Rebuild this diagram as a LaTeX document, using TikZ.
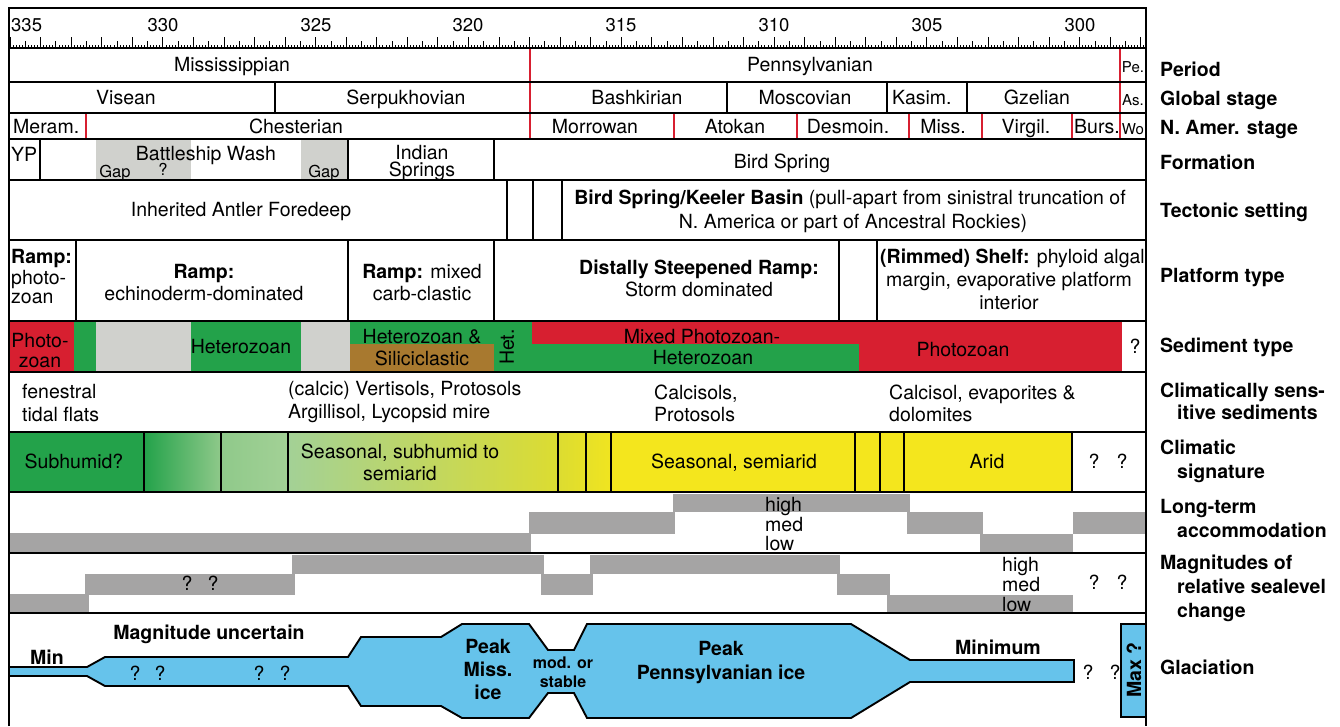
\documentclass[tikz,border=0pt]{standalone}
\usepackage{fontspec}
\setmainfont{TeX Gyre Heros}
\definecolor{cred}{HTML}{D71F30}
\definecolor{cgreen}{HTML}{23A24A}
\definecolor{cgap}{HTML}{D0D1CD}
\definecolor{cbrown}{HTML}{A8792F}
\definecolor{cbar}{HTML}{A5A4A4}
\definecolor{cblue}{HTML}{66C3EB}
\definecolor{cyel}{HTML}{F4E61D}
\definecolor{cyg}{HTML}{DCDC31}
\definecolor{clg}{HTML}{8FC98A}
\definecolor{clg2}{HTML}{A3D196}
\newcommand\Tx[5][txt]{\node[#1] (#2) at (#3,#4+6.5) {#5};}
\begin{document}
\begin{tikzpicture}[x=1pt,y=-1pt,
  txt/.style={font=\fontsize{19.5}{23}\selectfont, inner sep=0pt, anchor=base},
  wtxt/.style={txt, anchor=base west},
  btxt/.style={txt, font=\fontsize{19.5}{23}\selectfont\bfseries},
  wbtxt/.style={btxt, anchor=base west},
  stxt/.style={txt, font=\fontsize{16.5}{19}\selectfont},
  ttxt/.style={txt, font=\fontsize{15}{17}\selectfont},
  ntxt/.style={txt, font=\fontsize{18.5}{22}\selectfont},
  frame/.style={line width=2.4pt},
  rowline/.style={line width=2.1pt},
  vl/.style={line width=1.7pt},
  rl/.style={cred, line width=2.3pt},
  bar/.style={fill=cbar},
  tick/.style={line width=0.7pt}]
\useasboundingbox (0,0) rectangle (1340,726);
% ---------- fills ----------
\fill[cgap] (96,139) rectangle (191,180);
\fill[cgap] (301,139) rectangle (348,180);
% sediment type
\fill[cred] (9,321) rectangle (74,372);
\fill[cgreen] (74,321) rectangle (96,372);
\fill[cgap] (96,321) rectangle (191,372);
\fill[cgreen] (191,321) rectangle (301,372);
\fill[cgap] (301,321) rectangle (350,372);
\fill[cgreen] (350,321) rectangle (494,344);
\fill[cbrown] (350,344) rectangle (494,372);
\fill[cgreen] (494,321) rectangle (532,372);
\fill[cred] (532,321) rectangle (859,344);
\fill[cgreen] (532,344) rectangle (859,372);
\fill[cred] (859,321) rectangle (1122,372);
% climatic signature
\fill[cgreen] (9,432) rectangle (144,492);
\shade[left color=cgreen, right color=clg] (144,432) rectangle (221,492);
\shade[left color=clg, right color=clg2] (221,432) rectangle (288,492);
\shade[left color=clg2, right color=cyg] (288,432) rectangle (558,492);
\shade[left color=cyg, right color=cyel!85!cyg] (558,432) rectangle (611,492);
\fill[cyel] (611,432) rectangle (1072,492);
% long-term accommodation
\fill[bar] (9,533) rectangle (531,552);
\fill[bar] (529,512) rectangle (675,534);
\fill[bar] (673,494) rectangle (910,512);
\fill[bar] (907,512) rectangle (983,534);
\fill[bar] (980,534) rectangle (1073,552);
\fill[bar] (1073,512) rectangle (1146,534);
% magnitudes
\fill[bar] (9,594) rectangle (89,612);
\fill[bar] (85,574) rectangle (295,595);
\fill[bar] (292,555) rectangle (544,574);
\fill[bar] (541,574) rectangle (593,595);
\fill[bar] (590,555) rectangle (840,574);
\fill[bar] (837,574) rectangle (890,595);
\fill[bar] (887,595) rectangle (1073,612);
% glaciation
\fill[cblue] (9,667) -- (87,667) -- (105,657) -- (348,657) -- (361,637) -- (441,637) -- (462,624) -- (529,624) -- (548,650) -- (574,650) -- (587,624) -- (851,624) -- (910,660) -- (1074,660) -- (1074,682) -- (910,682) -- (851,718) -- (587,718) -- (574,693) -- (548,693) -- (529,718) -- (462,718) -- (441,706) -- (361,706) -- (348,686) -- (105,686) -- (87,676) -- (9,676) -- cycle;
\draw[line width=1.9pt, line join=miter] (9,667) -- (87,667) -- (105,657) -- (348,657) -- (361,637) -- (441,637) -- (462,624) -- (529,624) -- (548,650) -- (574,650) -- (587,624) -- (851,624) -- (910,660) -- (1074,660) -- (1074,682) -- (910,682) -- (851,718) -- (587,718) -- (574,693) -- (548,693) -- (529,718) -- (462,718) -- (441,706) -- (361,706) -- (348,686) -- (105,686) -- (87,676) -- (9,676);
\draw[fill=cblue, line width=1.9pt] (1121,624) rectangle (1146,717);
% ---------- axis ticks ----------
\foreach \i in {0,...,371}{
  \pgfmathsetmacro\h{mod(\i,10)==0 ? 11 : (mod(\i,5)==0 ? 7 : 3.5)}
  \draw[tick] (10+\i*3.056,48) -- ++(0,-\h);
}
% ---------- red boundaries ----------
\draw[rl] (530,48) -- (530,139);
\draw[rl] (1120,48) -- (1120,139);
\foreach \x in {86,674,797,909,982,1072} \draw[rl] (\x,113) -- (\x,139);
% ---------- black lines ----------
\foreach \x in {275,727,887,967} \draw[vl] (\x,82) -- (\x,113);
\foreach \x in {40,348,494} \draw[vl] (\x,139) -- (\x,180);
\foreach \x in {507,533,562} \draw[vl] (\x,180) -- (\x,240);
\foreach \x in {76,348,494,839,877} \draw[vl] (\x,240) -- (\x,321);
\foreach \x in {144,221,288,558,586,611,855,880,904,1072} \draw[vl] (\x,432) -- (\x,492);
\foreach \y in {48,82,113,139,180,240,321,372,432,492,553,613} \draw[rowline] (9,\y) -- (1146,\y);
\draw[frame] (9,726) -- (9,8) -- (1146,8) -- (1146,726);
% ---------- axis labels ----------
\Tx[ntxt,anchor=base west]{a335}{11}{25}{335}
\Tx[ntxt]{a330}{163}{25}{330}
\Tx[ntxt]{a325}{316}{25}{325}
\Tx[ntxt]{a320}{468}{25}{320}
\Tx[ntxt]{a315}{621}{25}{315}
\Tx[ntxt]{a310}{774}{25}{310}
\Tx[ntxt]{a305}{927}{25}{305}
\Tx[ntxt]{a300}{1080}{25}{300}
% period
\Tx{miss}{232}{65}{Mississippian}
\Tx{penn}{810}{65}{Pennsylvanian}
\Tx[ttxt]{pe}{1133}{66}{Pe.}
% global stage
\Tx{vis}{126}{98}{Visean}
\Tx{serp}{406}{98}{Serpukhovian}
\Tx{bash}{637}{98}{Bashkirian}
\Tx{mosc}{805}{98}{Moscovian}
\Tx[wtxt]{kas}{892}{98}{Kasim.}
\Tx{gzel}{1037}{98}{Gzelian}
\Tx[ttxt]{as}{1133}{99}{As.}
% N. Amer. stage
\Tx[wtxt]{mer}{13}{127}{Meram.}
\Tx{ches}{296}{127}{Chesterian}
\Tx{morr}{595}{127}{Morrowan}
\Tx{atok}{735}{127}{Atokan}
\Tx{desm}{848}{127}{Desmoin.}
\Tx{mis2}{943}{127}{Miss.}
\Tx{virg}{1026}{127}{Virgil.}
\Tx{burs}{1097}{127}{Burs.}
\Tx[ttxt]{wo}{1133}{128}{Wo}
% formation
\Tx[wtxt]{yp}{11}{155}{YP}
\Tx{bw}{206}{154}{Battleship Wash}
\Tx[stxt]{gap1}{115}{171}{Gap}
\Tx[stxt]{q1}{163}{169}{?}
\Tx[stxt]{gap2}{324}{171}{Gap}
\Tx{ind}{422}{153}{Indian}
\Tx{spr}{422}{170}{Springs}
\Tx{bird}{782}{162}{Bird Spring}
% tectonic setting
\Tx{antler}{241}{210}{Inherited Antler Foredeep}
\Tx{keel1}{850}{198}{\textbf{Bird Spring/Keeler Basin} (pull-apart from sinistral truncation of}
\Tx{keel2}{853}{222}{N. America or part of Ancestral Rockies)}
% platform type
\Tx[wbtxt]{pr1}{11}{257}{Ramp:}
\Tx[wtxt]{pr2}{11}{278}{photo-}
\Tx[wtxt]{pr3}{11}{297}{zoan}
\Tx[btxt]{re1}{204}{272}{Ramp:}
\Tx{re2}{204}{294}{echinoderm-dominated}
\Tx{rm1}{422}{272}{\textbf{Ramp:} mixed}
\Tx{rm2}{422}{294}{carb-clastic}
\Tx[btxt]{ds1}{699}{268}{Distally Steepened Ramp:}
\Tx{ds2}{699}{290}{Storm dominated}
\Tx[wtxt]{sh1}{880}{257}{\textbf{(Rimmed) Shelf:} phyloid algal}
\Tx{sh2}{1009}{280}{margin, evaporative platform}
\Tx{sh3}{1009}{303}{interior}
% sediment type
\Tx{ph1}{40}{341}{Photo-}
\Tx{ph2}{40}{361}{zoan}
\Tx{het1}{241}{347}{Heterozoan}
\Tx{hs1}{422}{337}{Heterozoan \&}
\Tx{hs2}{422}{359}{Siliciclastic}
\node[font=\fontsize{19.5}{23}\selectfont, inner sep=0pt, rotate=90] (hetr) at (507,347) {Het.};
\Tx{mp1}{702}{337}{Mixed Photozoan-}
\Tx{mp2}{703}{358}{Heterozoan}
\Tx{phz}{963}{350}{Photozoan}
\Tx{q2}{1135}{347}{?}
% climatically sensitive sediments
\Tx[wtxt]{fen1}{22}{392}{fenestral}
\Tx[wtxt]{fen2}{22}{415}{tidal flats}
\Tx[wtxt]{ver1}{288}{389}{(calcic) Vertisols, Protosols}
\Tx[wtxt]{ver2}{288}{412}{Argillisol, Lycopsid mire}
\Tx[wtxt]{cal1}{654}{393}{Calcisols,}
\Tx[wtxt]{cal2}{654}{415}{Protosols}
\Tx[wtxt]{eva1}{889}{393}{Calcisol, evaporites \&}
\Tx[wtxt]{eva2}{889}{415}{dolomites}
% climatic signature
\Tx{subh}{74}{462}{Subhumid?}
\Tx{ss1}{400}{452}{Seasonal, subhumid to}
\Tx{ss2}{400}{474}{semiarid}
\Tx{ssa}{734}{462}{Seasonal, semiarid}
\Tx{arid}{987}{462}{Arid}
\Tx{q3}{1094}{462}{?}
\Tx{q4}{1122}{462}{?}
% long-term accommodation
\Tx[wtxt]{lh}{765}{505}{high}
\Tx[wtxt]{lm}{765}{525}{med}
\Tx[wtxt]{ll}{765}{544}{low}
% magnitudes
\Tx{q5}{187}{584}{?}
\Tx{q6}{213}{584}{?}
\Tx[wtxt]{mh}{1002}{565}{high}
\Tx[wtxt]{mm}{1002}{585}{med}
\Tx[wtxt]{ml}{1002}{605}{low}
\Tx{q7}{1094}{583}{?}
\Tx{q8}{1122}{583}{?}
% glaciation
\Tx[btxt]{gmin}{47}{658}{Min}
\Tx[btxt]{gmag}{209}{633}{Magnitude uncertain}
\Tx{q9}{135}{674}{?}
\Tx{q10}{160}{674}{?}
\Tx{q11}{259}{674}{?}
\Tx{q12}{285}{674}{?}
\Tx[btxt]{pm1}{488}{647}{Peak}
\Tx[btxt]{pm2}{488}{670}{Miss.}
\Tx[btxt]{pm3}{488}{693}{ice}
\Tx[btxt,font=\fontsize{16}{19}\selectfont\bfseries]{mo1}{563}{662}{mod. or}
\Tx[btxt,font=\fontsize{16}{19}\selectfont\bfseries]{mo2}{563}{681}{stable}
\Tx[btxt]{pp1}{721}{649}{Peak}
\Tx[btxt]{pp2}{721}{673}{Pennsylvanian ice}
\Tx[btxt]{gmin2}{998}{648}{Minimum}
\Tx{q13}{1088}{673}{?}
\Tx{q14}{1115}{673}{?}
\node[font=\fontsize{19.5}{23}\selectfont\bfseries, inner sep=0pt, rotate=90] (maxq) at (1134,670) {Max ?};
% ---------- row titles ----------
\Tx[wbtxt]{tper}{1160}{70}{Period}
\Tx[wbtxt]{tglo}{1160}{99}{Global stage}
\Tx[wbtxt]{tnam}{1160}{128}{N. Amer. stage}
\Tx[wbtxt]{tfor}{1160}{163}{Formation}
\Tx[wbtxt]{ttec}{1160}{211}{Tectonic setting}
\Tx[wbtxt]{tpla}{1160}{276}{Platform type}
\Tx[wbtxt]{tsed}{1160}{346}{Sediment type}
\Tx[wbtxt]{tcs1}{1160}{391}{Climatically sens-}
\Tx[wbtxt]{tcs2}{1177}{413}{itive sediments}
\Tx[wbtxt]{tcl1}{1160}{448}{Climatic}
\Tx[wbtxt]{tcl2}{1177}{472}{signature}
\Tx[wbtxt]{tlt1}{1160}{507}{Long-term}
\Tx[wbtxt]{tlt2}{1177}{531}{accommodation}
\Tx[wbtxt]{tmg1}{1160}{563}{Magnitudes of}
\Tx[wbtxt]{tmg2}{1177}{587}{relative sealevel}
\Tx[wbtxt]{tmg3}{1177}{611}{change}
\Tx[wbtxt]{tgla}{1160}{668}{Glaciation}
\end{tikzpicture}
\end{document}
